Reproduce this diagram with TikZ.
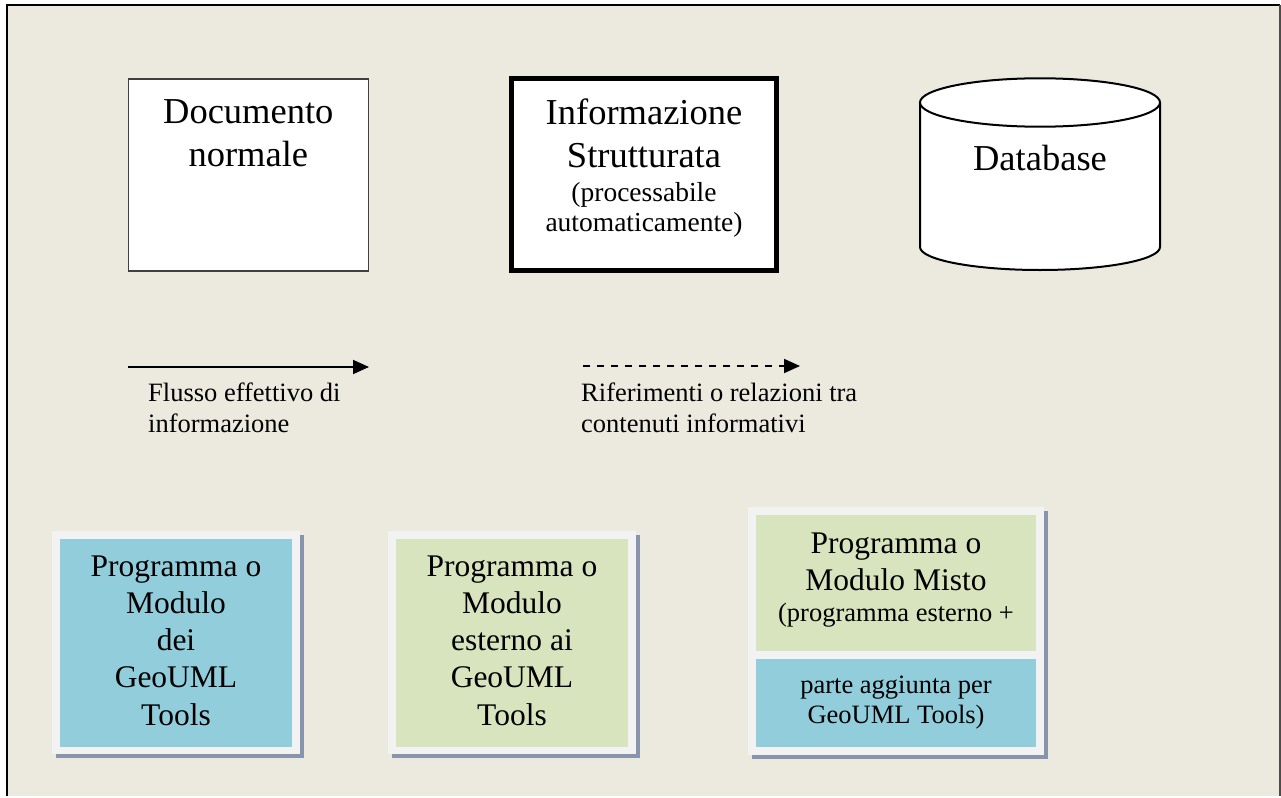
\documentclass[tikz,border=0pt]{standalone}
\usepackage{fontspec}
\setmainfont{Liberation Serif}
\usetikzlibrary{arrows.meta,shadows}

\definecolor{bgbeige}{HTML}{ECE9DF}
\definecolor{modblue}{HTML}{92CDDC}
\definecolor{extgreen}{HTML}{D7E4BD}
\definecolor{framegray}{HTML}{F2F2F2}
\definecolor{shadowgray}{HTML}{8794AC}

\tikzset{
  docbox/.style={rectangle, draw=black!75, line width=1.3pt, fill=white, inner sep=0pt},
  infobox/.style={rectangle, draw, line width=4.5pt, fill=white, inner sep=0pt},
  progframe/.style={rectangle, fill=framegray, inner sep=0pt,
    drop shadow={shadow xshift=3.5pt, shadow yshift=-4pt, fill=shadowgray, opacity=1}},
  progpart/.style={rectangle, inner sep=0pt},
  bigtxt/.style={font=\fontsize{36.5}{43}\selectfont, align=center, anchor=base, inner sep=0pt},
  smalltxt/.style={font=\fontsize{27.5}{29.3}\selectfont, align=center, anchor=base, inner sep=0pt},
  legtxt/.style={font=\fontsize{26.5}{31}\selectfont, align=left, anchor=base west, inner sep=0pt},
  progtxt/.style={font=\fontsize{31.5}{37.2}\selectfont, align=center, anchor=base, inner sep=0pt},
  misttxt/.style={font=\fontsize{26.5}{30}\selectfont, align=center, anchor=base, inner sep=0pt},
  flow/.style={line width=1.8pt, -{Triangle[length=16pt, width=14pt]}}
}

\begin{document}
\begin{tikzpicture}[x=1pt, y=1pt]
\fill[white] (0,0) rectangle (1281,-796);
\fill[bgbeige] (7,-5) rectangle (1280,-796);
\draw[line width=2pt] (7,-796) -- (7,-5) -- (1280,-5);
\draw[black!70, line width=1.2pt] (1280,-5) -- (1280,-796);
\useasboundingbox (0,0) rectangle (1281,-796);

% top row (base = last line)
\node[docbox, minimum width=240pt, minimum height=192pt] (D) at (248.3,-175) {};
\node[bigtxt] (Dt) at (248.3,-166) {Documento\\normale};

\node[infobox, minimum width=265pt, minimum height=192pt] (I) at (644,-174.5) {};
\node[bigtxt] (It) at (644,-167.7) {Informazione\\Strutturata};
\node[smalltxt] (Is) at (644,-231) {(processabile\\automaticamente)};

% database
\draw[line width=2pt, fill=white] (920,-102.5) -- (920,-247)
  arc[start angle=180, end angle=360, x radius=120, y radius=23] -- (1160,-102.5);
\draw[line width=2pt, fill=white] (1040,-102.5) ellipse[x radius=120, y radius=24.2];
\node[bigtxt] (DB) at (1040,-170) {Database};

% legenda
\coordinate (fS) at (128,-367);
\coordinate (fE) at (369,-367);
\draw[flow] (fS) -- (fE);
\node[legtxt] (fT) at (148,-432) {Flusso effettivo di\\informazione};

\coordinate (rS) at (583,-366);
\coordinate (rE) at (800,-366);
\draw[flow, dash pattern=on 7pt off 7pt] (rS) -- (rE);
\node[legtxt] (rT) at (581,-432) {Riferimenti o relazioni tra\\contenuti informativi};

% moduli
\node[progframe, minimum width=248pt, minimum height=223pt] (P1) at (176,-642.5) {};
\node[progpart, fill=modblue, minimum width=232pt, minimum height=208pt] (P1in) at (176,-643) {};
\node[progtxt] (P1t) at (176,-725) {Programma o\\Modulo\\dei\\GeoUML\\Tools};

\node[progframe, minimum width=248pt, minimum height=223pt] (P2) at (512,-642.5) {};
\node[progpart, fill=extgreen, minimum width=232pt, minimum height=208pt] (P2in) at (512,-643) {};
\node[progtxt] (P2t) at (512,-725) {Programma o\\Modulo\\esterno ai\\GeoUML\\Tools};

\node[progframe, minimum width=296pt, minimum height=248pt] (P3) at (896,-631) {};
\node[progpart, fill=extgreen, minimum width=280pt, minimum height=136pt] (P3a) at (896,-583) {};
\node[progpart, fill=modblue, minimum width=280pt, minimum height=88pt] (P3b) at (896,-703) {};
\node[progtxt] (P3t) at (896,-590.7) {Programma o\\Modulo Misto};
\node[misttxt] (P3s) at (896,-621) {(programma esterno +};
\node[misttxt] (P3u) at (896,-723.3) {parte aggiunta per\\GeoUML Tools)};
\end{tikzpicture}
\end{document}
